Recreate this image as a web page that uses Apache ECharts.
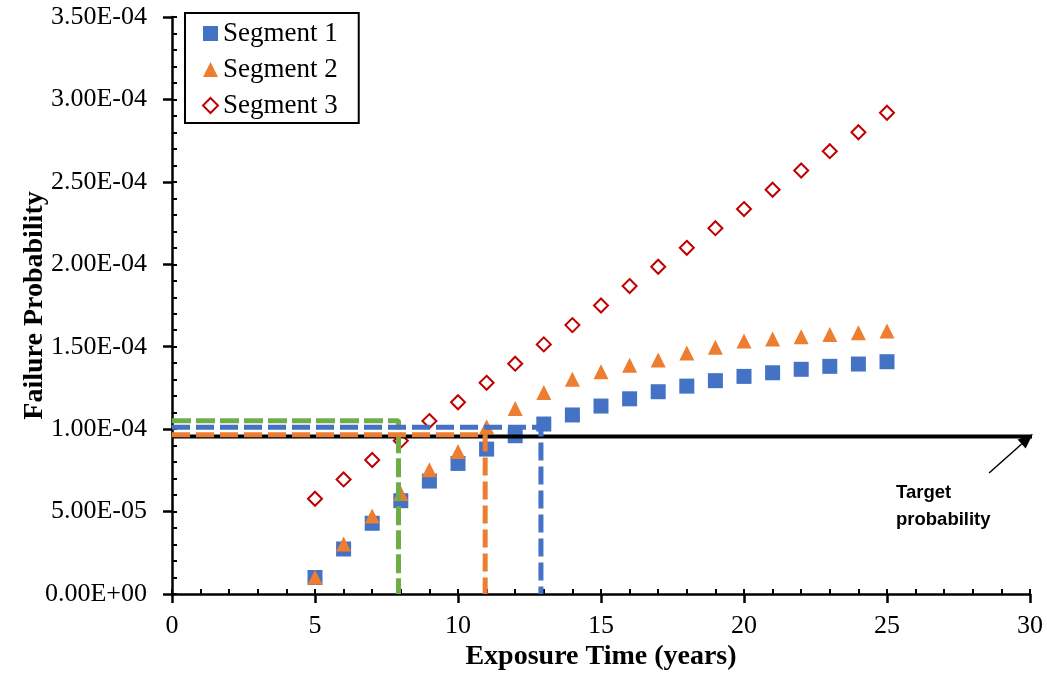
<!DOCTYPE html>
<html>
<head>
<meta charset="utf-8">
<script src="https://cdn.jsdelivr.net/npm/echarts@6/dist/echarts.min.js"></script>
<style>html,body{margin:0;padding:0;background:#fff;}#c{width:1047px;height:685px;}</style>
</head>
<body>
<div id="c"></div>
<script>
// ---- data ----
const years = [5,6,7,8,9,10,11,12,13,14,15,16,17,18,19,20,21,22,23,24,25];
const segment1 = [1.0e-5,2.73e-5,4.29e-5,5.66e-5,6.85e-5,7.92e-5,8.79e-5,9.6e-5,1.031e-4,1.086e-4,1.14e-4,1.184e-4,1.227e-4,1.261e-4,1.294e-4,1.32e-4,1.342e-4,1.363e-4,1.381e-4,1.395e-4,1.409e-4];
const segment2 = [1.01e-5,3.03e-5,4.73e-5,6.1e-5,7.54e-5,8.65e-5,1.015e-4,1.125e-4,1.222e-4,1.303e-4,1.348e-4,1.388e-4,1.42e-4,1.462e-4,1.497e-4,1.534e-4,1.547e-4,1.561e-4,1.574e-4,1.585e-4,1.596e-4];
const segment3 = [5.78e-5,6.95e-5,8.13e-5,9.3e-5,1.049e-4,1.163e-4,1.281e-4,1.397e-4,1.514e-4,1.631e-4,1.75e-4,1.868e-4,1.985e-4,2.1e-4,2.219e-4,2.335e-4,2.452e-4,2.569e-4,2.686e-4,2.801e-4,2.919e-4];
const seriesNames = ['Segment 1','Segment 2','Segment 3'];
const targetProbability = 9.55e-5;
const targetSpan = [0, 30.17];
const guideX = [12.9, 10.95, 7.92];      // segment 1, 2, 3 crossing times
const guideY = [1.011e-4, 9.66e-5, 1.051e-4];
const arrowFrom = [28.57, 7.34e-5];
const arrowTo = [30.1, 9.7e-5];
const annotationText = 'Target\nprobability';
const xTitle = 'Exposure Time (years)';
const yTitle = 'Failure Probability';

function fmtSci(v){
  if (Math.abs(v) < 1e-12) return '0.00E+00';
  const s = v.toExponential(2);
  const parts = s.split('e');
  const exp = parseInt(parts[1],10);
  const sign = exp < 0 ? '-' : '+';
  const e = String(Math.abs(exp)).padStart(2,'0');
  return parts[0] + 'E' + sign + e;
}

const pts = (ys) => years.map((x,i)=>[x, ys[i]]);
const serif = 'Liberation Serif';

const chart = echarts.init(document.getElementById('c'), null, {renderer:'canvas'});

function guideSeries(idx, color, dash){
  return {
    type:'line', xAxisIndex:0, yAxisIndex:0, silent:true, symbol:'none', clip:false,
    data:[[0, guideY[idx]], [guideX[idx], guideY[idx]], [guideX[idx], 0]],
    lineStyle:{color:color, width:5, type:dash}, z:5, animation:false
  };
}

const option = {
  animation:false,
  backgroundColor:'#fff',
  grid:{left:172, right:17, top:17, bottom:91, containLabel:false},
  legend:{
    data:seriesNames,
    orient:'vertical', left:185, top:13,
    backgroundColor:'#fff',
    borderColor:'#000', borderWidth:2,
    padding:[7,21,4,17],
    itemGap:9, itemWidth:15, itemHeight:15,
    textStyle:{fontFamily:serif, fontSize:27, color:'#000'}
  },
  xAxis:[{
    type:'value', min:0, max:30, interval:5, position:'bottom',
    name:xTitle, nameLocation:'middle', nameGap:49, nameMoveOverlap:false,
    nameTextStyle:{fontFamily:serif, fontSize:28, fontWeight:'bold', color:'#000'},
    axisLine:{lineStyle:{color:'#000', width:2.5}},
    axisTick:{show:true, inside:false, length:9, lineStyle:{color:'#000', width:2.5}},
    axisLabel:{fontFamily:serif, fontSize:26, color:'#000', margin:19},
    splitLine:{show:false}
  },{
    type:'value', min:0, max:30, interval:1, position:'bottom', offset:0,
    axisLine:{show:false},
    axisTick:{show:true, inside:true, length:5, lineStyle:{color:'#000', width:2}},
    axisLabel:{show:false}, splitLine:{show:false}
  }],
  yAxis:[{
    type:'value', min:0, max:3.5e-4, interval:5e-5, position:'left',
    name:yTitle, nameLocation:'middle', nameGap:123, nameRotate:90, nameMoveOverlap:false,
    nameTextStyle:{fontFamily:serif, fontSize:28, fontWeight:'bold', color:'#000'},
    axisLine:{show:true, lineStyle:{color:'#000', width:2.5}},
    axisTick:{show:true, inside:false, length:9, lineStyle:{color:'#000', width:2.5}},
    axisLabel:{fontFamily:serif, fontSize:26, color:'#000', margin:25, formatter:fmtSci},
    splitLine:{show:false}
  },{
    type:'value', min:0, max:3.5e-4, interval:1e-5, position:'left', offset:0,
    axisLine:{show:false},
    axisTick:{show:true, inside:true, length:5, lineStyle:{color:'#000', width:2}},
    axisLabel:{show:false}, splitLine:{show:false}
  }],
  series:[
    {
      name:seriesNames[0], type:'scatter', xAxisIndex:0, yAxisIndex:0,
      symbol:'rect', symbolSize:15, data:pts(segment1),
      itemStyle:{color:'#4472C4', opacity:1}, z:3
    },
    {
      name:seriesNames[1], type:'scatter', xAxisIndex:0, yAxisIndex:0,
      symbol:'triangle', symbolSize:15, data:pts(segment2),
      itemStyle:{color:'#ED7D31', opacity:1}, z:3
    },
    {
      name:seriesNames[2], type:'scatter', xAxisIndex:0, yAxisIndex:0,
      symbol:'diamond', symbolSize:14, data:pts(segment3),
      itemStyle:{color:'#fff', borderColor:'#C00000', borderWidth:2, opacity:1}, z:3
    },
    {
      type:'line', xAxisIndex:0, yAxisIndex:0, silent:true, symbol:'none', clip:false,
      data:[[targetSpan[0], targetProbability],[targetSpan[1], targetProbability]],
      lineStyle:{color:'#000', width:4}, z:4
    },
    guideSeries(2, '#70AD47', [19,5]),
    guideSeries(0, '#4472C4', [18,6]),
    guideSeries(1, '#ED7D31', [18,6])
  ]
};
chart.setOption(option);

// annotation arrow + text, positioned through the chart's own scales
const p0 = chart.convertToPixel({gridIndex:0}, arrowFrom);
const p1 = chart.convertToPixel({gridIndex:0}, arrowTo);
const ang = Math.atan2(p1[1]-p0[1], p1[0]-p0[0]);
const headLen = 15, headHalf = 6;
const bx = p1[0] - headLen*Math.cos(ang), by = p1[1] - headLen*Math.sin(ang);
const nx = -Math.sin(ang), ny = Math.cos(ang);
chart.setOption({
  graphic:[
    {type:'line', z:20, shape:{x1:p0[0], y1:p0[1], x2:bx, y2:by}, style:{stroke:'#000', lineWidth:1.5}},
    {type:'polygon', z:20, shape:{points:[[p1[0],p1[1]],[bx+nx*headHalf, by+ny*headHalf],[bx-nx*headHalf, by-ny*headHalf]]}, style:{fill:'#000'}},
    {type:'text', z:20, left:896, top:479,
     style:{text:annotationText, fontFamily:'Liberation Sans', fontWeight:'bold', fontSize:18.5, lineHeight:27, fill:'#000'}}
  ]
});
</script>
</body>
</html>
